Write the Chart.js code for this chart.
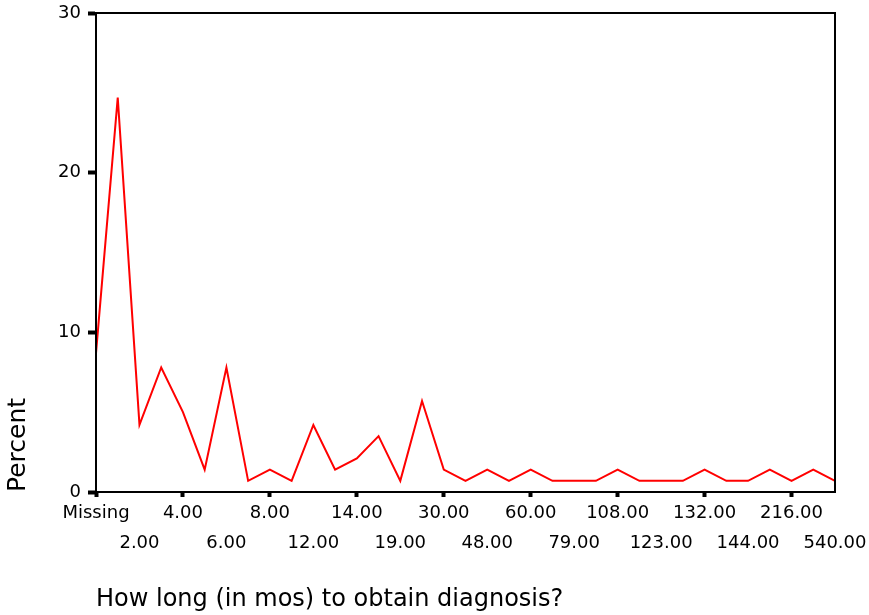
<!DOCTYPE html>
<html>
<head>
<meta charset="utf-8">
<script src="https://cdn.jsdelivr.net/npm/chart.js@4"></script>
<style>
  html, body { margin: 0; padding: 0; background: #fff; }
  #wrap { width: 869px; height: 615px; }
</style>
</head>
<body>
<div id="wrap"><canvas id="grafico"></canvas></div>
<script>
// ======== DADOS ========
const categorias = [
    "Missing", "1.00", "2.00", "3.00", "4.00", "5.00", "6.00", "7.00", "8.00", "10.00",
    "12.00", "13.00", "14.00", "18.00", "19.00", "24.00", "30.00", "36.00", "48.00", "54.00",
    "60.00", "72.00", "79.00", "96.00", "108.00", "120.00", "123.00", "126.00", "132.00", "138.00",
    "144.00", "180.00", "216.00", "240.00", "540.00"
];
const percentuais = [
    8.7, 24.7, 4.2, 7.8, 5.0, 1.4, 7.8, 0.7, 1.4, 0.7,
    4.2, 1.4, 2.1, 3.5, 0.7, 5.7, 1.4, 0.7, 1.4, 0.7,
    1.4, 0.7, 0.7, 0.7, 1.4, 0.7, 0.7, 0.7, 1.4, 0.7,
    0.7, 1.4, 0.7, 1.4, 0.7
];
const ticksY = [0, 10, 20, 30];

// moldura do gráfico (topo e lado direito)
const moldura = {
    id: "moldura",
    afterDraw(chart) {
        const a = chart.chartArea;
        const ctx = chart.ctx;
        ctx.save();
        ctx.strokeStyle = "#000";
        ctx.lineWidth = 2;
        ctx.strokeRect(a.left, a.top, a.right - a.left, a.bottom - a.top);
        ctx.restore();
    }
};

const fonte = "'DejaVu Sans', sans-serif";

new Chart(document.getElementById("grafico"), {
    type: "line",
    data: {
        labels: categorias,
        datasets: [{
            data: percentuais,
            borderColor: "#ff0000",
            borderWidth: 2,
            pointRadius: 0,
            tension: 0,
            fill: false
        }]
    },
    options: {
        responsive: true,
        maintainAspectRatio: false,
        animation: false,
        layout: { padding: { top: 13, right: 34, left: 0, bottom: 0 } },
        plugins: {
            legend: { display: false },
            tooltip: { enabled: false }
        },
        scales: {
            x: {
                offset: false,
                afterFit: (s) => { s.height = 123; },
                border: { color: "#000", width: 2 },
                grid: {
                    drawOnChartArea: false,
                    drawTicks: true,
                    tickLength: 5,
                    tickWidth: 4,
                    tickColor: (c) => (c.index % 2 ? "rgba(0,0,0,0)" : "#000")
                },
                ticks: {
                    autoSkip: false,
                    maxRotation: 0,
                    minRotation: 0,
                    padding: 1,
                    color: "#000",
                    font: { family: fonte, size: 18, lineHeight: 1.67 },
                    callback: function(valor, i) {
                        if (i % 2) return null;
                        const rotulo = categorias[i];
                        return (i / 2) % 2 ? ["", rotulo] : rotulo;
                    }
                },
                title: {
                    display: true,
                    text: "How long (in mos) to obtain diagnosis?",
                    align: "start",
                    color: "#000",
                    font: { family: fonte, size: 24 },
                    padding: { top: 0, bottom: 1 }
                }
            },
            y: {
                min: 0,
                max: 30,
                afterFit: (s) => {
                    s.width = 96;
                    s.paddingTop = 0;
                    s.paddingBottom = 0;
                },
                afterBuildTicks: (s) => { s.ticks = ticksY.map(v => ({ value: v })); },
                border: { color: "#000", width: 2 },
                grid: {
                    drawOnChartArea: false,
                    drawTicks: true,
                    tickLength: 8,
                    tickWidth: 4,
                    tickColor: "#000"
                },
                ticks: {
                    padding: 7,
                    color: "#000",
                    font: { family: fonte, size: 18 }
                },
                title: {
                    display: true,
                    text: "Percent",
                    align: "start",
                    color: "#000",
                    font: { family: fonte, size: 25 },
                    padding: { top: 3, bottom: 0 }
                }
            }
        }
    },
    plugins: [moldura]
});
</script>
</body>
</html>
